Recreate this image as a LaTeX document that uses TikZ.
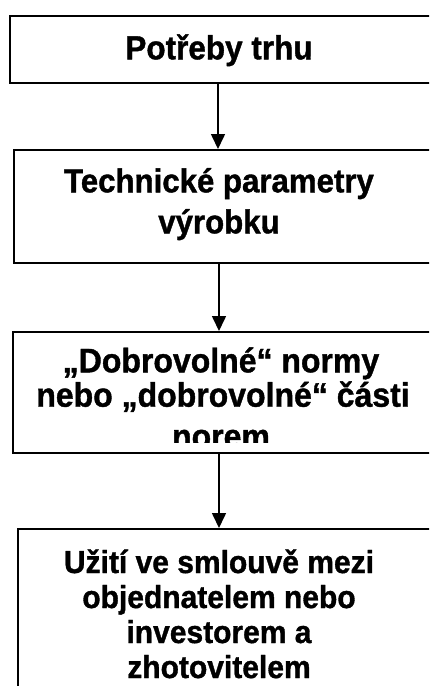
\documentclass[tikz,border=0pt]{standalone}
\usepackage{fontspec}
\setmainfont{Liberation Sans}[BoldFeatures={FakeBold=1.2}]
\usetikzlibrary{arrows.meta}
\begin{document}
\begin{tikzpicture}[x=1pt,y=-1pt,
  box/.style={draw=black, line width=2pt, rectangle, inner sep=0pt, anchor=north west},
  lbl/.style={font=\bfseries\fontsize{#1}{#1}\selectfont, inner sep=0pt, anchor=base},
  lbl/.default=31.5,
  arr/.style={line width=1.6pt, -{Triangle[length=15pt,width=14pt]}}]
\useasboundingbox (0,0) rectangle (429,686);
\clip (0,0) rectangle (429,686);
\node[box, minimum width=440pt, minimum height=66.5pt] (b1) at (8.5,15) {};
\node[box, minimum width=440pt, minimum height=113pt] (b2) at (13,149) {};
\node[box, minimum width=440pt, minimum height=121pt] (b3) at (12,331) {};
\node[box, minimum width=440pt, minimum height=200pt] (b4) at (17,528) {};
\node[lbl=31.5] (t1) at (219,59.3) {\scalebox{1}[1.06]{Potřeby trhu}};
\node[lbl=31.2] (t2a) at (219,192.3) {\scalebox{1}[1.06]{Technické parametry}};
\node[lbl=31.2] (t2b) at (219,233.3) {\scalebox{1}[1.06]{výrobku}};
\node[lbl=32] (t3a) at (221,372.3) {\scalebox{1}[1.06]{„Dobrovolné“ normy}};
\node[lbl=32] (t3b) at (223,406.7) {\scalebox{1}[1.06]{nebo „dobrovolné“ části}};
\begin{scope}
\clip (0,0) rectangle (429,442);
\node[lbl=32] (t3c) at (221,448) {\scalebox{1}[1.06]{norem}};
\end{scope}
\node[lbl=30] (t4a) at (219,573) {\scalebox{1}[1.06]{Užití ve smlouvě mezi}};
\node[lbl=30] (t4b) at (219,608) {\scalebox{1}[1.06]{objednatelem nebo}};
\node[lbl=30] (t4c) at (219,643) {\scalebox{1}[1.06]{investorem a}};
\node[lbl=30] (t4d) at (219,678) {\scalebox{1}[1.06]{zhotovitelem}};
\draw[arr] (b1.south -| 218,0) -- (b2.north -| 218,0);
\draw[arr] (b2.south -| 219,0) -- (b3.north -| 219,0);
\draw[arr] (b3.south -| 219,0) -- (b4.north -| 219,0);
\end{tikzpicture}
\end{document}
